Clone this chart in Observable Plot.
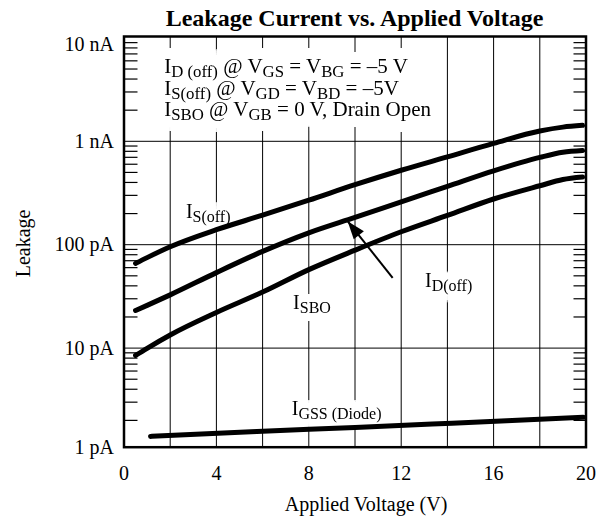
<!DOCTYPE html>
<html><head><meta charset="utf-8">
<script src="https://cdn.jsdelivr.net/npm/d3@7"></script>
<script src="https://cdn.jsdelivr.net/npm/@observablehq/plot@0.6"></script>
<style>
body{margin:0;background:#fff;}
#title{font-family:"Liberation Serif","Times New Roman",serif;font-weight:bold;font-size:24px;height:26px;line-height:36px;padding:0 21.5px 0 123.5px;box-sizing:border-box;text-align:center;white-space:nowrap;width:607px;color:#000;}
</style></head><body>
<div id="title">Leakage Current vs. Applied Voltage</div>
<div id="chart"></div>
<script>
// ---- data (voltage in V, current in pA) ----
const voltage = [0.5, 1, 2, 4, 6, 8, 10, 12, 14, 16, 18, 19, 19.85];
const iSoff = [65.9, 75.0, 95.5, 139.6, 192.8, 269.2, 380.2, 524.8, 707.9, 955, 1259, 1371, 1426];
const iDoff = [23.1, 25.9, 32.7, 53.7, 86.1, 130.3, 183.6, 259.4, 366.4, 517.6, 698.2, 783.4, 814.7];
const iSBO  = [8.49, 9.95, 13.4, 22.1, 34.8, 57.4, 88.5, 133.4, 191.9, 276.7, 371.5, 426.6, 450.8];
const gssVoltage = [1.15, 5.5, 10, 14.2, 19.88];
const iGSS = [1.40, 1.55, 1.71, 1.88, 2.14];

const xTicks = [0, 4, 8, 12, 16, 20];
const xGrid = [2, 4, 6, 8, 10, 12, 14, 16, 18];
const yTicks = [1, 10, 100, 1000, 10000];
const yTickLabels = ["1 pA", "10 pA", "100 pA", "1 nA", "10 nA"];
const yGrid = [10, 100, 1000];
const decades = [1, 10, 100, 1000];
const minorMult = [2, 3, 4, 5, 6, 7, 8, 9];

const curveLabels = [
  {text: "I_{S(off)}", v: 2.68, pa: 207},
  {text: "I_{SBO}", v: 7.32, pa: 27.6},
  {text: "I_{D(off)}", v: 13.03, pa: 44.8},
  {text: "I_{GSS (Diode)}", v: 7.26, pa: 2.61}
];
const conditions = [
  {text: "I_{D (off)} @ V_{GS} = V_{BG} = \u20135 V", v: 1.74, pa: 5337},
  {text: "I_{S(off)} @ V_{GD} = V_{BD} = \u20135V", v: 1.74, pa: 3272},
  {text: "I_{SBO} @ V_{GB} = 0 V, Drain Open", v: 1.74, pa: 2048}
];
const arrow = {v1: 11.63, pa1: 47.9, v2: 9.68, pa2: 168.8};

// ---- build tables ----
const series = [
  ...voltage.map((v, i) => ({v, pa: iSoff[i], s: "IS(off)"})),
  ...voltage.map((v, i) => ({v, pa: iDoff[i], s: "ID(off)"})),
  ...voltage.map((v, i) => ({v, pa: iSBO[i], s: "ISBO"})),
  ...gssVoltage.map((v, i) => ({v, pa: iGSS[i], s: "IGSS"}))
];
const minor = decades.flatMap(d => minorMult.map(k => k * d));
const yLabel = new Map(yTicks.map((t, i) => [t, yTickLabels[i]]));
const yTop = yTicks[yTicks.length - 1], yBottom = yTicks[0];
const yInner = yTicks.slice(1, -1);

// ---- layout ----
const W = 607, H = 492, mL = 123.5, mR = 21.5, mT = 10, mB = 71.3;
const xDomain = [0, 20], yDomain = [1, 10000], yRange = [425, 11.4];
const serif = "'Liberation Serif','Times New Roman',serif";

const xs = Plot.scale({x: {domain: xDomain, range: [mL, W - mR]}});
const ys = Plot.scale({y: {type: "log", domain: yDomain, range: yRange}});
const ddx = xs.apply(arrow.v2) - xs.apply(arrow.v1);
const ddy = ys.apply(arrow.pa2) - ys.apply(arrow.pa1);
const headAngle = Math.atan2(ddx, -ddy) * 180 / Math.PI;

const yAxisOpts = {tickSize: 0, tickPadding: 10, tickFormat: d => yLabel.get(d), label: null};

const chart = Plot.plot({
  width: W, height: H,
  marginLeft: mL, marginRight: mR, marginTop: mT, marginBottom: mB,
  style: {fontFamily: serif, fontSize: "20px", background: "white", color: "black"},
  x: {domain: xDomain},
  y: {type: "log", domain: yDomain, range: yRange},
  marks: [
    Plot.ruleX(xGrid, {stroke: "black", strokeWidth: 1}),
    Plot.ruleY(yGrid, {stroke: "black", strokeWidth: 1}),
    // labels (white boxes added below hide the grid behind them)
    Plot.text(conditions, {x: "v", y: "pa", text: "text", textAnchor: "start", fontSize: 21, fill: "black"}),
    Plot.text(curveLabels, {x: "v", y: "pa", text: "text", textAnchor: "start", fontSize: 20, fill: "black"}),
    // minor log ticks, inside the frame on the left and right
    Plot.axisY(minor, {anchor: "left", tickSize: 14, dx: 14, tickFormat: () => "", label: null, strokeWidth: 1.2}),
    Plot.axisY(minor, {anchor: "right", tickSize: 13, dx: -13, tickFormat: () => "", label: null, strokeWidth: 1.2}),
    // curves
    Plot.line(series, {x: "v", y: "pa", z: "s", stroke: "black", strokeWidth: 5,
      curve: "monotone-x", strokeLinecap: "round"}),
    // arrow
    Plot.link([arrow], {x1: "v1", y1: "pa1", x2: "v2", y2: "pa2", stroke: "black", strokeWidth: 2, strokeLinecap: "butt"}),
    Plot.vector([arrow], {x: "v2", y: "pa2", length: 18, rotate: headAngle, anchor: "end",
      shape: "spike", r: 6.5, fill: "black", stroke: "none"}),
    Plot.frame({stroke: "black", strokeWidth: 2.5}),
    Plot.axisY(yInner, yAxisOpts),
    Plot.axisY([yTop], {...yAxisOpts, dy: 7}),
    Plot.axisY([yBottom], {...yAxisOpts, dy: -4}),
    Plot.axisX(xTicks, {tickSize: 0, tickPadding: 19, label: null}),
    Plot.text(["Applied Voltage (V)"], {text: d => d, frameAnchor: "bottom", textAnchor: "middle",
      lineAnchor: "middle", dx: 11, dy: 57, fontSize: 20}),
    Plot.text(["Leakage"], {text: d => d, frameAnchor: "left", textAnchor: "middle",
      lineAnchor: "middle", rotate: -90, dx: -100, dy: 1.6, fontSize: 20})
  ]
});

// white box filters (dilated text silhouette) to hide grid lines behind labels
const NS = "http://www.w3.org/2000/svg";
const defs = document.createElementNS(NS, "defs");
defs.innerHTML =
  '<filter id="haloBlock" x="-0.15" y="-0.4" width="1.3" height="1.8" color-interpolation-filters="sRGB">' +
  '<feMorphology in="SourceAlpha" operator="dilate" radius="13 11" result="d"/>' +
  '<feFlood flood-color="white" result="w"/><feComposite in="w" in2="d" operator="in" result="bg"/>' +
  '<feMerge><feMergeNode in="bg"/><feMergeNode in="SourceGraphic"/></feMerge></filter>' +
  '<filter id="haloLabel" x="-0.1" y="-0.1" width="1.2" height="1.2" color-interpolation-filters="sRGB">' +
  '<feMorphology in="SourceAlpha" operator="dilate" radius="9 8" result="d"/>' +
  '<feFlood flood-color="white" result="w"/><feComposite in="w" in2="d" operator="in" result="bg"/>' +
  '<feMerge><feMergeNode in="bg"/><feMergeNode in="SourceGraphic"/></feMerge></filter>';
chart.insertBefore(defs, chart.firstChild);

// subscripts: "_{...}" -> smaller lowered tspans
chart.querySelectorAll("text").forEach(t => {
  if (t.querySelector("tspan")) return;
  const s = t.textContent;
  if (!s.includes("_{")) return;
  const g = t.parentNode;
  if (g && !g.hasAttribute("filter")) g.setAttribute("filter", s.includes("@") ? "url(#haloBlock)" : "url(#haloLabel)");
  const parts = [];
  const re = /_\{([^}]*)\}/g;
  let last = 0, m;
  while ((m = re.exec(s))) {
    if (m.index > last) parts.push({t: s.slice(last, m.index), sub: false});
    parts.push({t: m[1], sub: true});
    last = re.lastIndex;
  }
  if (last < s.length) parts.push({t: s.slice(last), sub: false});
  t.textContent = "";
  let cur = 0;
  for (const p of parts) {
    const ts = document.createElementNS(NS, "tspan");
    const target = p.sub ? 4 : 0;
    if (target !== cur) { ts.setAttribute("dy", target - cur); cur = target; }
    if (p.sub) ts.setAttribute("font-size", "0.8em");
    ts.textContent = p.t;
    t.appendChild(ts);
  }
});

document.getElementById("chart").appendChild(chart);
</script>
</body></html>
